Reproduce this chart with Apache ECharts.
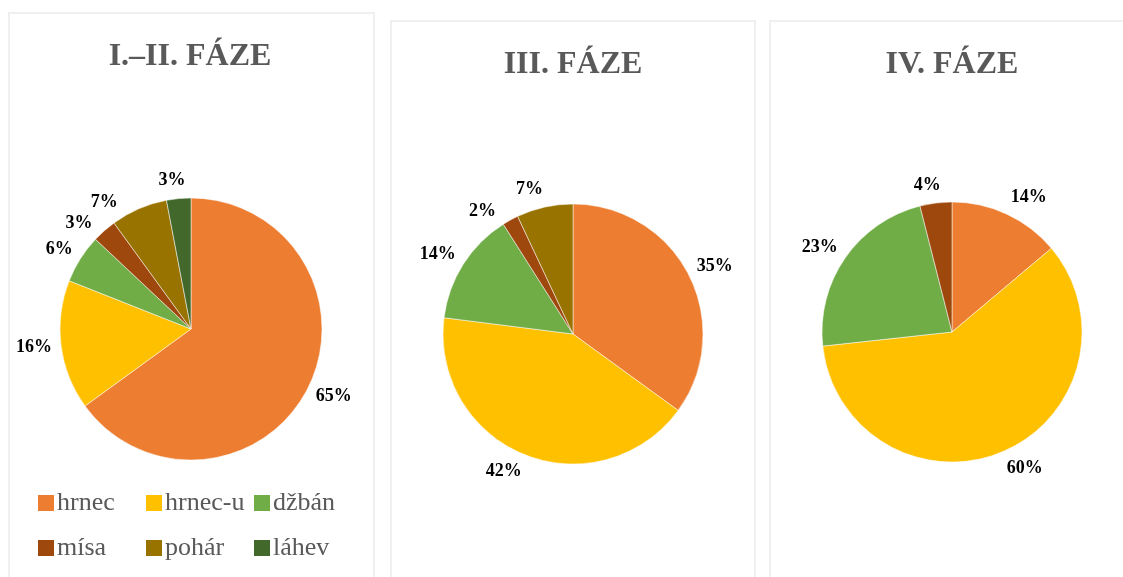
<!DOCTYPE html>
<html>
<head>
<meta charset="utf-8">
<title>Fáze</title>
<script src="https://cdn.jsdelivr.net/npm/echarts@6/dist/echarts.min.js"></script>
<style>
    html, body { margin: 0; padding: 0; background: #ffffff; }
    #main { width: 1123px; height: 577px; }
</style>
</head>
<body>
<div id="main"></div>
<script>
// kategorie a hodnoty (%)
var categories = ['hrnec', 'hrnec-u', 'džbán', 'mísa', 'pohár', 'láhev'];
var colors = ['#ED7D31', '#FFC000', '#70AD47', '#9E480E', '#997300', '#43682B'];

var titles = ['I.–II. FÁZE', 'III. FÁZE', 'IV. FÁZE'];
var phase12 = [65, 16, 6, 3, 7, 3];
var phase3 = [35, 42, 14, 2, 7];
var phase4 = [14, 60, 23, 4];

var centers = [[191, 329], [573, 334], [952, 332]];

function toData(values) {
    var arr = [];
    for (var i = 0; i < values.length; i++) {
        arr.push({ name: categories[i], value: values[i], itemStyle: { color: colors[i] } });
    }
    return arr;
}

// popisky "outside end" jako v Excelu: box prilehne k obvodu ve smeru vysece
function excelLabel(params) {
    var c = centers[params.seriesIndex];
    var rect = params.labelRect;
    var onLeft = rect.x + rect.width / 2 < c[0];
    var ax = onLeft ? rect.x + rect.width : rect.x;
    var ay = rect.y + rect.height / 2;
    var vx = ax - c[0], vy = ay - c[1];
    var len = Math.sqrt(vx * vx + vy * vy);
    var dx = vx / len, dy = vy / len;
    var f = Math.min(1, 4.5 * Math.abs(dx));
    return {
        x: ax + (dx < 0 ? -1 : 1) * f * rect.width / 2,
        y: ay + dy * rect.height / 2,
        align: 'center',
        verticalAlign: 'middle'
    };
}

function pieSeries(values, center, radius) {
    return {
        type: 'pie',
        center: center,
        radius: radius,
        startAngle: 90,
        clockwise: true,
        data: toData(values),
        itemStyle: { borderColor: '#ffffff', borderWidth: 0.5 },
        label: {
            show: true,
            position: 'outside',
            distanceToLabelLine: 0,
            formatter: function (p) { return p.value + '%'; },
            fontFamily: 'Liberation Serif',
            fontWeight: 'bold',
            fontSize: 18,
            color: '#000000'
        },
        labelLine: { show: false, length: 9, length2: 0 },
        labelLayout: excelLabel,
        emphasis: { scale: false },
        animation: false
    };
}

function panel(x, y, w, h) {
    return {
        type: 'rect',
        shape: { x: x, y: y, width: w, height: h },
        style: { fill: 'none', stroke: '#EFEFEF', lineWidth: 2 },
        silent: true
    };
}

function titleItem(text, cx, top) {
    return {
        text: text,
        left: cx,
        top: top,
        padding: 0,
        textAlign: 'center',
        textStyle: {
            fontFamily: 'Liberation Serif',
            fontWeight: 'bold',
            fontSize: 32,
            color: '#595959'
        }
    };
}

// legenda: 3 sloupce x 2 radky, kazda polozka zvlast kvuli zarovnani
function legendItems() {
    var cols = [36, 144, 252];
    var rows = [490, 535];
    var arr = [];
    for (var i = 0; i < categories.length; i++) {
        arr.push({
            data: [categories[i]],
            left: cols[i % 3],
            top: rows[Math.floor(i / 3)],
            padding: 0,
            icon: 'rect',
            itemWidth: 18,
            itemHeight: 18,
            textStyle: {
                fontFamily: 'Liberation Serif',
                fontSize: 26,
                color: '#595959',
                padding: [0, 0, 0, -3]
            }
        });
    }
    return arr;
}

var chart = echarts.init(document.getElementById('main'));
var option = {
    backgroundColor: '#ffffff',
    animation: false,
    title: [
        titleItem(titles[0], 190, 41),
        titleItem(titles[1], 573, 49),
        titleItem(titles[2], 952, 49)
    ],
    legend: legendItems(),
    graphic: [
        panel(9, 13, 365, 600),
        panel(391, 21, 364, 600),
        panel(770, 21, 360, 600)
    ],
    series: [
        pieSeries(phase12, centers[0], 131),
        pieSeries(phase3, centers[1], 130),
        pieSeries(phase4, centers[2], 130)
    ]
};
chart.setOption(option);
</script>
</body>
</html>
